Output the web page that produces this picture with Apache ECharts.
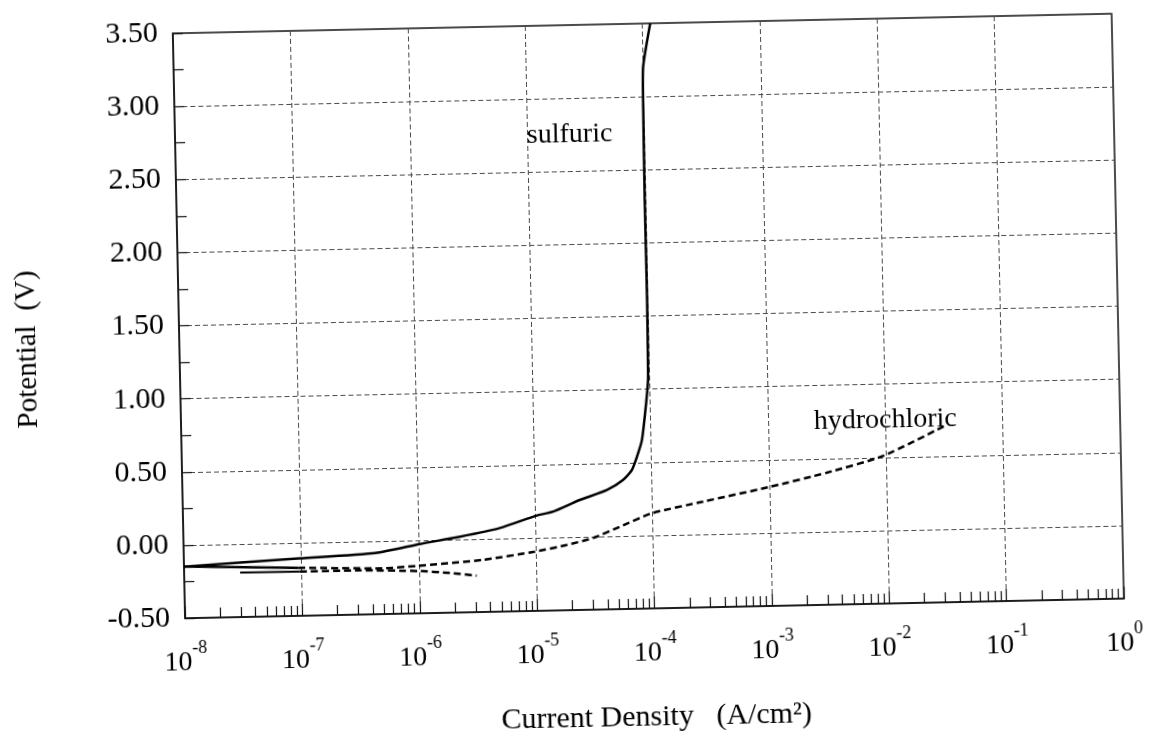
<!DOCTYPE html>
<html>
<head>
<meta charset="utf-8">
<script src="https://cdn.jsdelivr.net/npm/echarts@6/dist/echarts.min.js"></script>
<style>
  html, body { margin: 0; padding: 0; background: #fff; overflow: hidden; }
  #chart { width: 1152px; height: 744px; transform: rotate(-1.2deg); transform-origin: 50% 50%; }
</style>
</head>
<body>
<div id="chart"></div>
<script>
// Polarization curves: potential vs. current density (log scale)
const sulfuricCurrent   = [1.0e-8, 9.8e-8, 4.3e-7, 1.03e-6, 2.27e-6, 4.99e-6, 1.0e-5, 1.42e-5, 2.42e-5, 4.13e-5, 5.68e-5, 6.79e-5, 7.53e-5, 8.38e-5, 9.31e-5, 9.68e-5, 9.73e-5, 9.82e-5, 9.77e-5, 9.86e-5, 1.0e-4, 1.17e-4];
const sulfuricPotential = [-0.147, -0.107, -0.081, -0.026, 0.018, 0.072, 0.149, 0.176, 0.252, 0.316, 0.382, 0.449, 0.537, 0.653, 0.926, 1.062, 1.151, 1.609, 2.293, 2.977, 3.203, 3.50];

const hclAnodicCurrent   = [1.0e-8, 9.4e-8, 4.9e-7, 9.6e-7, 3.5e-6, 9.8e-6, 1.83e-5, 3.08e-5, 5.25e-5, 9.8e-5, 2.72e-4, 9.8e-4, 3.09e-3, 9.4e-3, 3.3e-2];
const hclAnodicPotential = [-0.147, -0.171, -0.187, -0.176, -0.144, -0.095, -0.054, -0.010, 0.063, 0.150, 0.223, 0.312, 0.403, 0.509, 0.712];

const hclCathodicCurrent   = [3.0e-8, 9.7e-8, 3.1e-7, 1.0e-6, 1.84e-6, 3.1e-6];
const hclCathodicPotential = [-0.196, -0.198, -0.198, -0.211, -0.229, -0.251];

const curveLabels = [
  { text: 'sulfuric',     current: 2.3e-5, potential: 2.75 },
  { text: 'hydrochloric', current: 1.0e-2, potential: 0.755 }
];

const xMin = 1e-8, xMax = 1;
const yMin = -0.5, yMax = 3.5, yStep = 0.5;
const serif = "'Liberation Serif', 'DejaVu Serif', serif";

const pairs = (xs, ys) => xs.map((x, i) => [x, ys[i]]);

// split a branch into its first-decade part (solid) and the rest (dashed)
function splitAt(points, limit) {
  let k = 0;
  while (k < points.length && points[k][0] <= limit) k++;
  return [points.slice(0, k), points.slice(Math.max(k - 1, 0))];
}

const sulfuric = pairs(sulfuricCurrent, sulfuricPotential);
const [anodicSolid, anodicDashed] = splitAt(pairs(hclAnodicCurrent, hclAnodicPotential), 1e-7);
const [cathSolid, cathDashed] = splitAt(pairs(hclCathodicCurrent, hclCathodicPotential), 1e-7);

// minor tick positions 2..9 within each decade
const minorTicks = [];
for (let e = -8; e < 0; e++) {
  for (let m = 2; m <= 9; m++) minorTicks.push(m * Math.pow(10, e));
}

const ink = '#111';
const gridLine = { color: '#4a4a4a', width: 1, type: [5, 3] };

const lineBase = { type: 'line', showSymbol: false, symbol: 'none', smooth: 0.2, animation: false, z: 5 };

const chart = echarts.init(document.getElementById('chart'), null, { renderer: 'canvas' });
chart.setOption({
  backgroundColor: '#fff',
  animation: false,
  grid: { left: 180, top: 25, width: 939, height: 585, show: true, borderColor: ink, borderWidth: 1.5, backgroundColor: 'transparent' },
  xAxis: [
    {
      type: 'log', min: xMin, max: xMax, logBase: 10, splitNumber: 8,
      axisLine: { show: true, onZero: false, lineStyle: { color: ink, width: 1.5 } },
      axisTick: { show: true, inside: true, length: 12, lineStyle: { color: ink, width: 1.2 } },
      splitLine: { show: true, lineStyle: gridLine },
      axisLabel: {
        margin: 21,
        formatter: v => '{b|10}{s|' + Math.round(Math.log10(v)) + '}',
        rich: {
          b: { fontFamily: serif, fontSize: 28, color: '#000' },
          s: { fontFamily: serif, fontSize: 18, color: '#000', padding: [0, 0, 30, 0] }
        }
      },
      name: 'Current Density   (A/cm²)',
      nameLocation: 'middle',
      nameGap: 94,
      nameTextStyle: { fontFamily: serif, fontSize: 30, color: '#000' }
    },
    {
      type: 'log', min: xMin, max: xMax, logBase: 10, position: 'bottom', offset: 0,
      axisLine: { show: false, onZero: false },
      axisLabel: { show: false },
      splitLine: { show: false },
      axisTick: { show: true, inside: true, length: 10, customValues: minorTicks, lineStyle: { color: ink, width: 1.2 } }
    }
  ],
  yAxis: {
    type: 'value', min: yMin, max: yMax, interval: yStep,
    axisLine: { show: true, onZero: false, lineStyle: { color: ink, width: 1.5 } },
    axisTick: { show: true, inside: true, length: 10, lineStyle: { color: ink, width: 1.2 } },
    minorTick: { show: true, splitNumber: 2, length: 10, lineStyle: { color: ink, width: 1.2 } },
    splitLine: { show: true, lineStyle: gridLine },
    axisLabel: { margin: 15, fontFamily: serif, fontSize: 30, color: '#000', formatter: v => v.toFixed(2) }
  },
  graphic: [{
    type: 'text', x: 28, y: 338, rotation: Math.PI / 2,
    style: { text: 'Potential  (V)', font: '29px ' + serif, fill: '#000', textAlign: 'center', textVerticalAlign: 'middle' }
  }],
  series: [
    Object.assign({}, lineBase, {
      name: 'sulfuric', data: sulfuric,
      lineStyle: { color: '#000', width: 2.5 },
      markPoint: {
        symbol: 'circle', symbolSize: 0, animation: false,
        label: { show: true, position: 'inside', fontFamily: serif, fontSize: 28, color: '#000', formatter: curveLabels[0].text },
        data: [{ coord: [curveLabels[0].current, curveLabels[0].potential] }]
      }
    }),
    Object.assign({}, lineBase, { name: 'hydrochloric', data: anodicSolid, smooth: false, lineStyle: { color: '#000', width: 2.5 } }),
    Object.assign({}, lineBase, {
      name: 'hydrochloric', data: anodicDashed,
      lineStyle: { color: '#000', width: 2.5, type: [7, 4] },
      markPoint: {
        symbol: 'circle', symbolSize: 0, animation: false,
        label: { show: true, position: 'inside', fontFamily: serif, fontSize: 28, color: '#000', formatter: curveLabels[1].text },
        data: [{ coord: [curveLabels[1].current, curveLabels[1].potential] }]
      }
    }),
    Object.assign({}, lineBase, { name: 'hydrochloric', data: cathSolid, smooth: false, lineStyle: { color: '#000', width: 2 } }),
    Object.assign({}, lineBase, { name: 'hydrochloric', data: cathDashed, lineStyle: { color: '#000', width: 2.5, type: [7, 4] } })
  ]
});
</script>
</body>
</html>
